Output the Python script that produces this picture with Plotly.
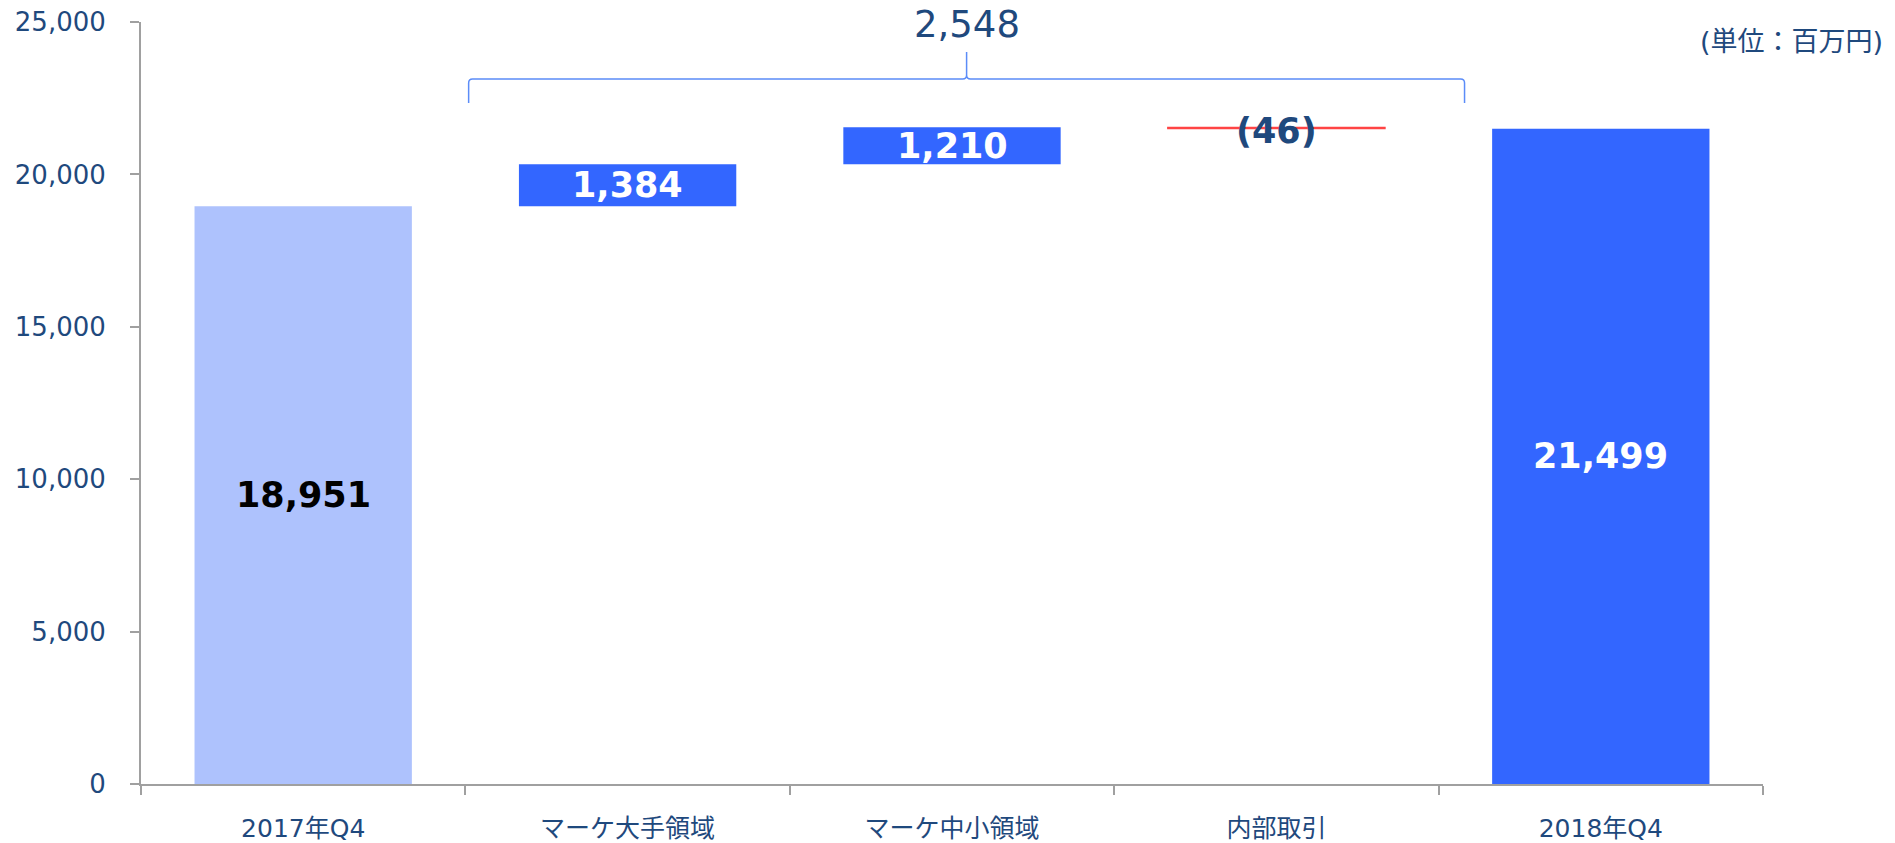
import plotly.graph_objects as go

# Bridge of quarterly revenue (million yen)
categories = ["2017年Q4", "マーケ大手領域", "マーケ中小領域", "内部取引", "2018年Q4"]
measures = ["total", "relative", "relative", "relative", "total"]
values = [18951, 1384, 1210, -46, 21499]
bar_colors = ["#AEC2FD", "#3366FF", "#3366FF", "#FF4444", "#3366FF"]
label_colors = ["#000000", "#FFFFFF", "#FFFFFF", "#1F497D", "#FFFFFF"]
y_ticks = [0, 5000, 10000, 15000, 20000, 25000]
unit_label = "(単位：百万円)"

FONT = "Verdana, 'DejaVu Sans', 'Noto Sans CJK JP', sans-serif"
TEXT_BLUE = "#1F497D"
AXIS_GRAY = "#A0A0A0"

# floating bars: totals start at zero, changes start at the running total
bases, running = [], 0
for m, v in zip(measures, values):
    if m == "total":
        bases.append(0)
        running = v
    else:
        bases.append(running)
        running += v

def fmt(v):
    return f"{v:,}" if v >= 0 else f"({abs(v):,})"

fig = go.Figure()
fig.add_trace(go.Bar(
    x=categories,
    y=values,
    base=bases,
    marker=dict(
        color=bar_colors,
        line=dict(color=bar_colors, width=[0 if m == "total" or v > 0 else 1.2
                                           for m, v in zip(measures, values)]),
    ),
    hoverinfo="skip",
))

# value labels at the middle of each bar
for i, (c, v, b) in enumerate(zip(categories, values, bases)):
    fig.add_annotation(
        x=c, y=b + v / 2, xref="x", yref="y",
        text=f"<b>{fmt(v)}</b>",
        showarrow=False,
        font=dict(family=FONT, size=35, color=label_colors[i]),
        yshift=-3 if v < 0 else 0,
    )

# brace spanning the change items, labelled with the net change
net_change = values[-1] - values[0]
x0, xm, x1 = 0.51, 2.045, 3.58
yb, ym, yt = 22343, 23130, 24016
rx, ry = 0.012, 130
brace = (
    f"M {x0},{yb} L {x0},{ym - ry} Q {x0},{ym} {x0 + rx},{ym} "
    f"L {xm - rx},{ym} Q {xm},{ym} {xm},{ym + ry} L {xm},{yt} "
    f"M {xm},{yt} L {xm},{ym + ry} Q {xm},{ym} {xm + rx},{ym} "
    f"L {x1 - rx},{ym} Q {x1},{ym} {x1},{ym - ry} L {x1},{yb}"
)
fig.add_shape(type="path", path=brace, xref="x", yref="y",
              line=dict(color="#5B8CF8", width=1.5))
fig.add_annotation(
    x=xm, y=24920, xref="x", yref="y",
    text=f"{net_change:,}", showarrow=False,
    font=dict(family=FONT, size=37, color=TEXT_BLUE),
)

# unit note
fig.add_annotation(
    x=1.075, y=0.9738, xref="paper", yref="paper",
    xanchor="right", yanchor="middle",
    text=unit_label, showarrow=False,
    font=dict(family=FONT, size=27, color=TEXT_BLUE),
)

fig.update_layout(
    width=1895, height=843,
    margin=dict(l=141, r=132, t=22, b=59, autoexpand=False),
    paper_bgcolor="white", plot_bgcolor="white",
    showlegend=False,
    bargap=0.33,
    font=dict(family=FONT, color=TEXT_BLUE),
)
fig.update_xaxes(
    type="category",
    tickson="boundaries",
    ticks="outside", ticklen=9, tickwidth=2, tickcolor=AXIS_GRAY,
    showline=True, linecolor=AXIS_GRAY, linewidth=2,
    showgrid=False, automargin=False,
    tickfont=dict(family=FONT, size=25, color=TEXT_BLUE),
    ticklabelstandoff=21,
)
fig.update_yaxes(
    range=[0, 25000],
    tickvals=y_ticks, tickformat=",",
    ticks="outside", ticklen=9, tickwidth=2, tickcolor=AXIS_GRAY,
    showline=True, linecolor=AXIS_GRAY, linewidth=2,
    showgrid=False, zeroline=False, automargin=False,
    tickfont=dict(family=FONT, size=26, color=TEXT_BLUE),
    ticklabelstandoff=19,
)

fig.write_html("out.html")
